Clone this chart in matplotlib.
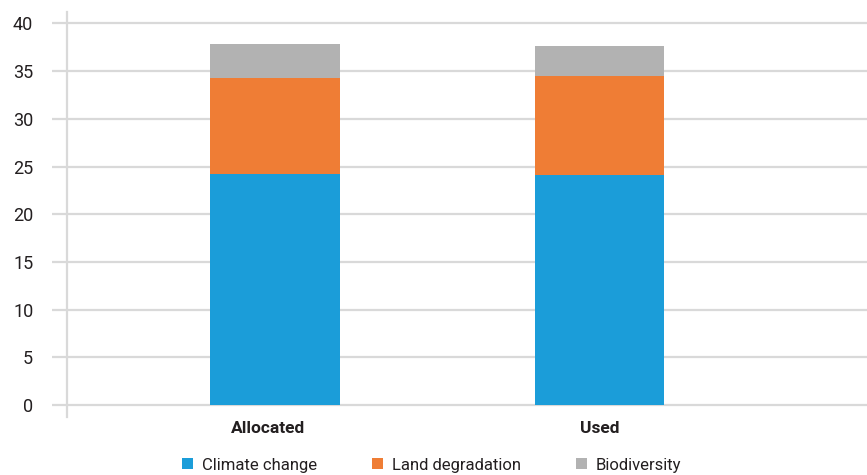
import matplotlib
matplotlib.use('Agg')

import matplotlib.pyplot as plt
from matplotlib.patches import Patch
from matplotlib.transforms import ScaledTranslation

# =========================
# DATA
# =========================
categories = ["Allocated", "Used"]
series_names = ["Climate change", "Land degradation", "Biodiversity"]

climate_change = [24.25, 24.1]
land_degradation = [10.05, 10.4]
biodiversity = [3.5, 3.1]

y_ticks = [0, 5, 10, 15, 20, 25, 30, 35, 40]

# =========================
# STYLE
# =========================
COLORS = ["#1b9dd9", "#ef7d35", "#b2b2b2"]
GRID = "#d9d9d9"
TEXT = "#231f20"

plt.rcParams['font.family'] = ['Roboto', 'DejaVu Sans']

fig = plt.figure(figsize=(8.67, 4.75), dpi=100)
ax = fig.add_axes([0.0773, 0.1221, 0.9227, 0.8526])

# stacked bars
x = list(range(len(categories)))
bottom = [0.0] * len(categories)
for values, color in zip([climate_change, land_degradation, biodiversity], COLORS):
    ax.bar(x, values, width=0.40, bottom=bottom, color=color, zorder=3)
    bottom = [b + v for b, v in zip(bottom, values)]

ax.set_xlim(-0.641, 1.824)
ax.set_ylim(-1.26, 41.2)

ax.set_yticks(y_ticks)
ax.set_yticklabels([str(t) for t in y_ticks], fontsize=13, color=TEXT)
ax.yaxis.grid(True, color=GRID, linewidth=1.6, zorder=0)
ax.tick_params(axis='y', length=10.8, width=1.6, color=GRID, pad=13.5)

ax.set_xticks(x)
ax.set_xticklabels(categories, fontsize=12.5, fontweight='bold', color=TEXT)
ax.tick_params(axis='x', length=0, pad=3)

# nudge the first category label a little to the left
first = ax.get_xticklabels()[0]
first.set_transform(first.get_transform() + ScaledTranslation(-0.07, 0, fig.dpi_scale_trans))

for side in ['top', 'right', 'bottom']:
    ax.spines[side].set_visible(False)
ax.spines['left'].set_color(GRID)
ax.spines['left'].set_linewidth(1.6)

handles = [Patch(facecolor=c, edgecolor='none') for c in COLORS]
leg = fig.legend(handles, series_names, loc='center', bbox_to_anchor=(0.4977, 0.021),
                 ncol=3, frameon=False, fontsize=12, handlelength=0.65,
                 handleheight=0.65, handletextpad=0.55, columnspacing=3.3)
for t in leg.get_texts():
    t.set_color(TEXT)

fig.savefig("out.png", dpi=100)
